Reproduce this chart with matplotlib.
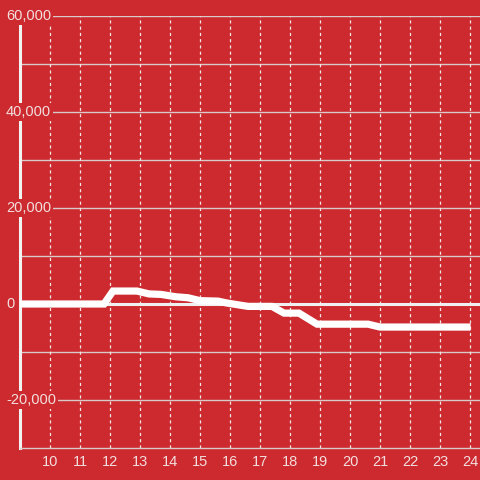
import matplotlib
matplotlib.use("Agg")
import matplotlib.pyplot as plt

# series
HOURS = [9, 11.8, 12.1, 12.9, 13.3, 13.7, 14.2, 14.6, 15.0, 15.6, 15.9, 16.6,
         17.4, 17.8, 18.3, 18.9, 20.6, 21.0, 23.9]
VALUES = [0, 0, 2700, 2700, 2100, 2000, 1500, 1300, 700, 600, 200, -500,
          -500, -1900, -1900, -4200, -4200, -4800, -4800]

X_TICKS = list(range(10, 25))
Y_TICKS = [-20000, 0, 20000, 40000, 60000]
Y_GRID = list(range(-20000, 60001, 10000))

BG = "#cc2a2f"
TXT = "#f3dede"

plt.rcParams["font.family"] = ["Liberation Sans", "DejaVu Sans"]

fig = plt.figure(figsize=(4.8, 4.8), dpi=100, facecolor=BG)
ax = fig.add_axes([20 / 480, 32 / 480, 460 / 480, 432 / 480])
ax.set_facecolor(BG)

ax.set_xlim(9, 9 + 460 / 30)
ax.set_ylim(-30000, 60000)

for g in Y_GRID:
    if g == 0:
        continue
    ax.axhline(g, color="#d9c9c9", lw=1, zorder=1)
for t in X_TICKS:
    ax.axvline(t, color="#f0e6e6", lw=0.9, ls=(0, (2.5, 2.5)), zorder=1)
ax.axhline(0, color="#f0f0f0", lw=2.2, zorder=1.5)

ax.plot(HOURS, VALUES, color="white", lw=5.2, solid_joinstyle="miter", zorder=3)

for s in ["top", "right"]:
    ax.spines[s].set_visible(False)
ax.spines["left"].set_color("#f2f2f2")
ax.spines["left"].set_linewidth(2.2)
ax.spines["left"].set_bounds(-30000, 58300)
ax.spines["bottom"].set_color("#d9c9c9")
ax.spines["bottom"].set_linewidth(1)

ax.set_xticks(X_TICKS)
ax.set_xticklabels([str(t) for t in X_TICKS])
ax.tick_params(axis="x", length=0, pad=5, labelsize=10.5, labelcolor=TXT)
ax.set_yticks([])

for v in Y_TICKS:
    ax.text(-14 / 460, v, f"{v:,}", transform=ax.get_yaxis_transform(),
            ha="left", va="center", fontsize=10.5, color=TXT, zorder=10,
            clip_on=False,
            bbox=dict(facecolor=BG, edgecolor="none", pad=1.5))

fig.savefig("out.png", dpi=100, facecolor=BG)
